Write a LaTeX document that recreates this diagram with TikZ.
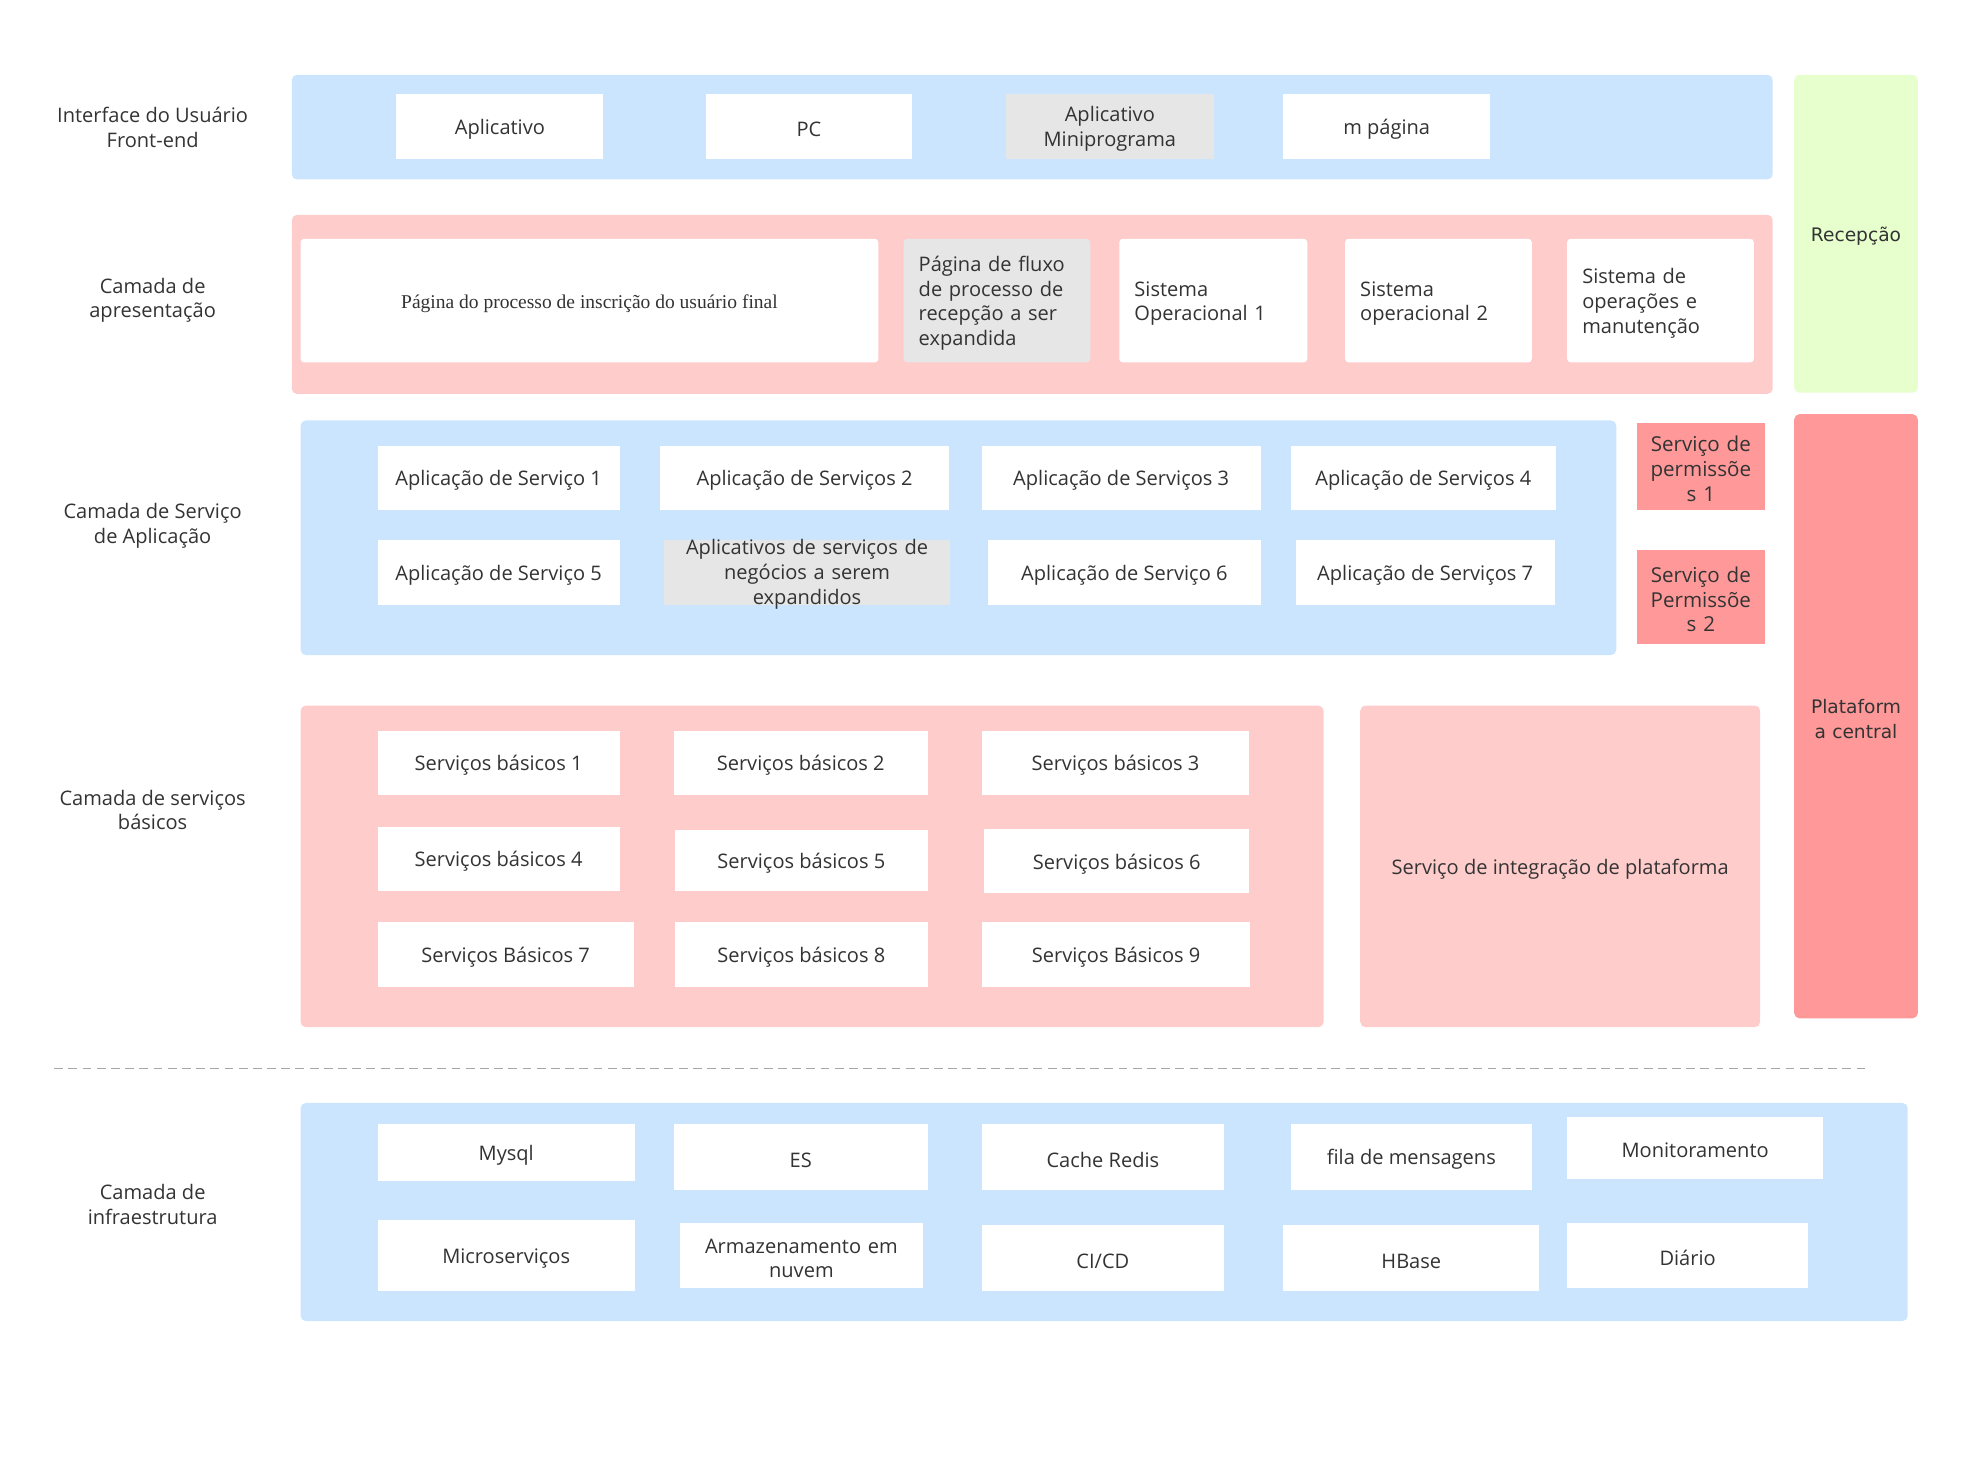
\documentclass[tikz,border=0pt]{standalone}
\usepackage{fontspec}
\setmainfont{Open Sans}
\newfontfamily\pgserif{Liberation Serif}
\newfontfamily\pgwide{DejaVu Sans}
\definecolor{ink}{HTML}{333333}
\definecolor{lblue}{HTML}{CCE5FF}
\definecolor{lpink}{HTML}{FFCCCC}
\definecolor{lgreen}{HTML}{E6FFCC}
\definecolor{lred}{HTML}{FF9999}
\definecolor{lgrey}{HTML}{E6E6E6}
\definecolor{sep}{HTML}{A6A6A6}
\tikzset{
  box/.style 2 args={anchor=north west, inner sep=0pt, align=center, text height=11.5pt,
    minimum width=#1*0.025cm, minimum height=#2*0.025cm},
  panel/.style={fill=#1, rounded corners=3pt},
  card/.style={fill=white},
  todo/.style={fill=lgrey},
  multi/.style={text width=#1*0.025cm},
  lefttext/.style={align=left, inner xsep=0.3cm, text width=#1*0.025cm}
}

\begin{document}
\begin{tikzpicture}[x=0.025cm, y=-0.025cm,
  every node/.style={text=ink, font=\fontsize{11.3}{13.9}\selectfont}]
  \useasboundingbox (0,0) rectangle (1568,1168);

  % layer names
  \node[align=center] (nui) at (121,101) {Interface do Usuário\\Front-end};
  \node[align=center] (npres) at (121,238) {Camada de\\apresentação};
  \node[align=center] (napp) at (121,417) {Camada de Serviço\\de Aplicação};
  \node[align=center] (nbase) at (121,642) {Camada de serviços\\básicos};
  \node[align=center] (ninfra) at (121,955) {Camada de\\infraestrutura};

  % front-end
  \node[panel=lblue, box={1174}{83}] (ui) at (231,59) {};
  \node[card, box={164}{52}] (app) at (314,74) {Aplicativo};
  \node[card, box={164}{52}] (pc) at (559,74) {PC};
  \node[todo, box={165}{52}, multi=165] (mini) at (797,74) {Aplicativo\\Miniprograma};
  \node[card, box={164}{52}] (web) at (1017,74) {m página};

  % presentation
  \node[panel=lpink, box={1174}{142}] (pres) at (231,170) {};
  \node[card, rounded corners=2pt, box={458}{98}, font=\pgserif\fontsize{11}{13}\selectfont] (reg) at (238,189)
    {Página do processo de inscrição do usuário final};
  \node[todo, rounded corners=2pt, box={148}{98}, lefttext=124] (flow) at (716,189)
    {Página de fluxo\\de processo de\\recepção a ser\\expandida};
  \node[card, rounded corners=2pt, box={149}{98}, lefttext=125] (os1) at (887,189)
    {Sistema\\Operacional 1};
  \node[card, rounded corners=2pt, box={148}{98}, lefttext=124] (os2) at (1066,189)
    {Sistema\\operacional 2};
  \node[card, rounded corners=2pt, box={148}{98}, lefttext=124] (ops) at (1242,189)
    {Sistema de\\operações e\\manutenção};

  % side columns
  \node[panel=lgreen, box={98}{252}, font=\pgwide\fontsize{10.5}{13.9}\selectfont] (front) at (1422,59) {Recepção};
  \node[panel=lred, box={98}{479}, multi=98, font=\pgwide\fontsize{10.5}{13.9}\selectfont] (core) at (1422,328)
    {Plataform\\a central};

  % application services
  \node[panel=lblue, box={1043}{186}] (apps) at (238,333) {};
  \node[card, box={192}{51}] (as1) at (299,353) {Aplicação de Serviço 1};
  \node[card, box={229}{51}] (as2) at (523,353) {Aplicação de Serviços 2};
  \node[card, box={221}{51}] (as3) at (778,353) {Aplicação de Serviços 3};
  \node[card, box={210}{51}] (as4) at (1023,353) {Aplicação de Serviços 4};
  \node[card, box={192}{51}] (as5) at (299,428) {Aplicação de Serviço 5};
  \node[todo, box={227}{51}, multi=227, text height=8pt, text depth=27.8pt] (asx) at (526,428)
    {Aplicativos de serviços de\\negócios a serem\\expandidos};
  \node[card, box={216}{51}] (as6) at (783,428) {Aplicação de Serviço 6};
  \node[card, box={205}{51}] (as7) at (1027,428) {Aplicação de Serviços 7};
  \node[fill=lred, box={102}{69}, multi=102, font=\fontsize{11.6}{13.9}\selectfont] (perm1) at (1297,335)
    {Serviço de\\permissõe\\s 1};
  \node[fill=lred, box={102}{74}, multi=102, font=\fontsize{11.6}{13.9}\selectfont] (perm2) at (1297,436)
    {Serviço de\\Permissõe\\s 2};

  % basic services
  \node[panel=lpink, box={811}{255}] (base) at (238,559) {};
  \node[card, box={192}{51}] (sb1) at (299,579) {Serviços básicos 1};
  \node[card, box={201}{51}] (sb2) at (534,579) {Serviços básicos 2};
  \node[card, box={212}{51}] (sb3) at (778,579) {Serviços básicos 3};
  \node[card, box={192}{51}] (sb4) at (299,655) {Serviços básicos 4};
  \node[card, box={200}{48}] (sb5) at (535,658) {Serviços básicos 5};
  \node[card, box={210}{51}] (sb6) at (780,657) {Serviços básicos 6};
  \node[card, box={203}{51}] (sb7) at (299,731) {Serviços Básicos 7};
  \node[card, box={200}{51}] (sb8) at (535,731) {Serviços básicos 8};
  \node[card, box={213}{51}] (sb9) at (778,731) {Serviços Básicos 9};
  \node[panel=lpink, box={317}{255}] (integ) at (1078,559) {Serviço de integração de plataforma};

  \coordinate (sepl) at (43,847);
  \coordinate (sepr) at (1482,847);
  \draw[sep, dash pattern=on 5pt off 3pt] (sepl) -- (sepr);

  % infrastructure
  \node[panel=lblue, box={1274}{173}] (infra) at (238,874) {};
  \node[card, box={204}{45}] (mysql) at (299,891) {Mysql};
  \node[card, box={201}{52}] (es) at (534,891) {ES};
  \node[card, box={192}{52}] (redis) at (778,891) {Cache Redis};
  \node[card, box={191}{52}] (mq) at (1023,891) {fila de mensagens};
  \node[card, box={203}{49}] (mon) at (1242,885) {Monitoramento};
  \node[card, box={204}{56}] (micro) at (299,967) {Microserviços};
  \node[card, box={192}{52}, multi=192] (cloud) at (539,969) {Armazenamento em\\nuvem};
  \node[card, box={192}{52}] (cicd) at (778,971) {CI/CD};
  \node[card, box={203}{52}] (hbase) at (1017,971) {HBase};
  \node[card, box={191}{52}] (log) at (1242,969) {Diário};
\end{tikzpicture}
\end{document}
